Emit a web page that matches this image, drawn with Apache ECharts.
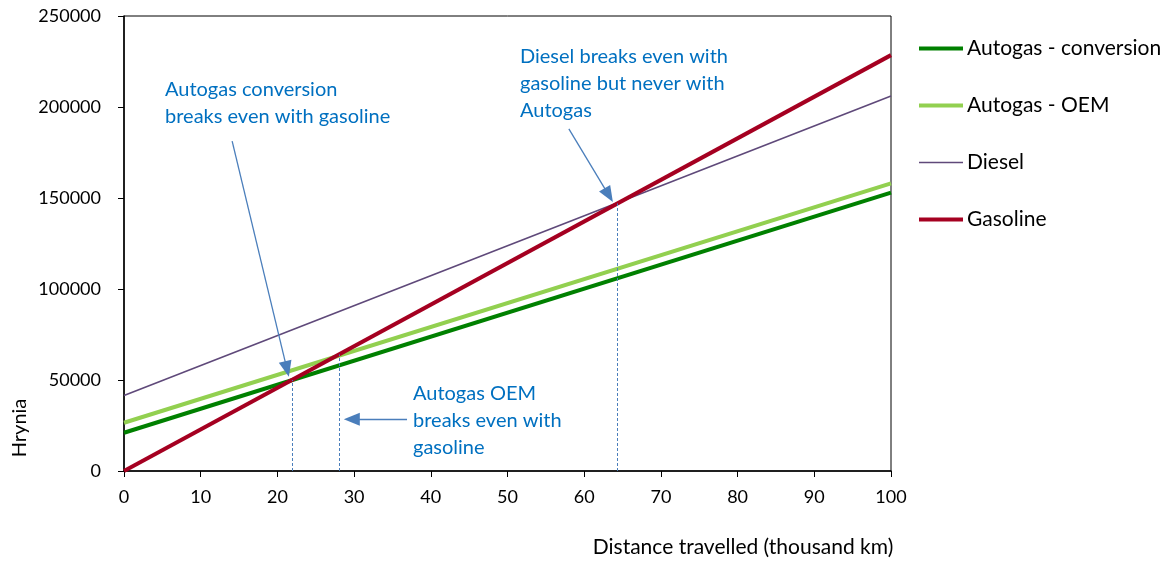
<!DOCTYPE html>
<html>
<head>
<meta charset="utf-8">
<script src="https://cdn.jsdelivr.net/npm/echarts@6/dist/echarts.min.js"></script>
<style>html,body{margin:0;padding:0;background:#fff}#c{width:1169px;height:564px}</style>
</head>
<body>
<div id="c"></div>
<script>
// Data
const distances = [0, 100];
const autogasConversion = [21000, 153000];
const autogasOEM = [26500, 158000];
const diesel = [41500, 206000];
const gasoline = [0, 228500];
const seriesNames = ['Autogas - conversion', 'Autogas - OEM', 'Diesel', 'Gasoline'];
const breakEvenX = [21.9, 28.0, 64.3];
const breakEvenY = [50000, 64000, 147000];
const arrows = [
  [[14.1, 181300], [21.25, 56000]],
  [[36.9, 28500], [29.7, 28500]],
  [[58.0, 188000], [63.2, 151600]]
];
const notes = [
  'Autogas conversion\nbreaks even with gasoline',
  'Autogas OEM\nbreaks even with\ngasoline',
  'Diesel breaks even with\ngasoline but never with\nAutogas'
];

const font = 'Lato, "Open Sans", sans-serif';
const noteColor = '#0070C0';
const arrowColor = '#4A7EBB';
const colors = ['#008000', '#92D050', '#5F497A', '#A50021'];
const widths = [4, 4, 1.6, 4];

function pts(arr) { return distances.map((d, i) => [d, arr[i]]); }

const chart = echarts.init(document.getElementById('c'));
const dashLines = breakEvenX.map((x, i) => [{coord: [x, 0]}, {coord: [x, breakEvenY[i]]}]);
const arrowLines = arrows.map(a => [{coord: a[0]}, {coord: a[1]}]);

chart.setOption({
  animation: false,
  textStyle: {fontFamily: font},
  grid: {left: 124, right: 278, top: 16, bottom: 93, show: true, borderColor: '#000', borderWidth: 1},
  xAxis: {
    type: 'value', min: 0, max: 100, interval: 10,
    axisLine: {lineStyle: {color: '#000', width: 1.5}},
    axisTick: {show: true, inside: false, length: 6, lineStyle: {color: '#000'}},
    axisLabel: {fontSize: 18, color: '#000', margin: 17, fontFamily: font},
    splitLine: {show: false}
  },
  yAxis: {
    type: 'value', min: 0, max: 250000, interval: 50000,
    axisLine: {show: true, lineStyle: {color: '#000', width: 1.5}},
    axisTick: {show: true, inside: false, length: 6, lineStyle: {color: '#000'}},
    axisLabel: {fontSize: 18, color: '#000', margin: 23, fontFamily: font, formatter: v => String(v)},
    splitLine: {show: false}
  },
  legend: {
    orient: 'vertical', left: 917, top: 38, padding: 0, itemWidth: 44, itemHeight: 14, itemGap: 36,
    textStyle: {fontSize: 21, color: '#000', fontFamily: font, lineHeight: 14, padding: [0, 0, 0, -1]},
    data: seriesNames.map((n, i) => ({name: n, itemStyle: {opacity: 0}, lineStyle: {width: widths[i], color: colors[i]}}))
  },
  series: [
    {name: seriesNames[0], type: 'line', data: pts(autogasConversion), symbol: 'none', lineStyle: {color: colors[0], width: widths[0]}, itemStyle: {color: colors[0]}, z: 3,
      markLine: {silent: true, symbol: ['none', 'none'], label: {show: false}, lineStyle: {color: '#4A7EBB', type: [3, 2], width: 1}, data: dashLines}},
    {name: seriesNames[1], type: 'line', data: pts(autogasOEM), symbol: 'none', lineStyle: {color: colors[1], width: widths[1]}, itemStyle: {color: colors[1]}, z: 2},
    {name: seriesNames[2], type: 'line', data: pts(diesel), symbol: 'none', lineStyle: {color: colors[2], width: widths[2]}, itemStyle: {color: colors[2]}, z: 2,
      markLine: {silent: true, symbol: ['none', 'triangle'], symbolSize: [13, 16], label: {show: false}, lineStyle: {color: arrowColor, type: 'solid', width: 1.3}, data: arrowLines}},
    {name: seriesNames[3], type: 'line', data: pts(gasoline), symbol: 'none', lineStyle: {color: colors[3], width: widths[3]}, itemStyle: {color: colors[3]}, z: 4}
  ],
  graphic: [
    {type: 'text', left: 165, top: 76, style: {text: notes[0], font: '20px ' + font, fill: noteColor, lineHeight: 27}},
    {type: 'text', left: 413, top: 380, style: {text: notes[1], font: '20px ' + font, fill: noteColor, lineHeight: 27}},
    {type: 'text', left: 520, top: 43, style: {text: notes[2], font: '20px ' + font, fill: noteColor, lineHeight: 27}},
    {type: 'text', x: 20, y: 428, rotation: Math.PI / 2, style: {text: 'Hrynia', font: '20px ' + font, fill: '#000', align: 'center', verticalAlign: 'middle'}},
    {type: 'text', x: 743, y: 547, style: {text: 'Distance travelled (thousand km)', font: '21px ' + font, fill: '#000', align: 'center', verticalAlign: 'middle'}}
  ]
});
</script>
</body>
</html>
